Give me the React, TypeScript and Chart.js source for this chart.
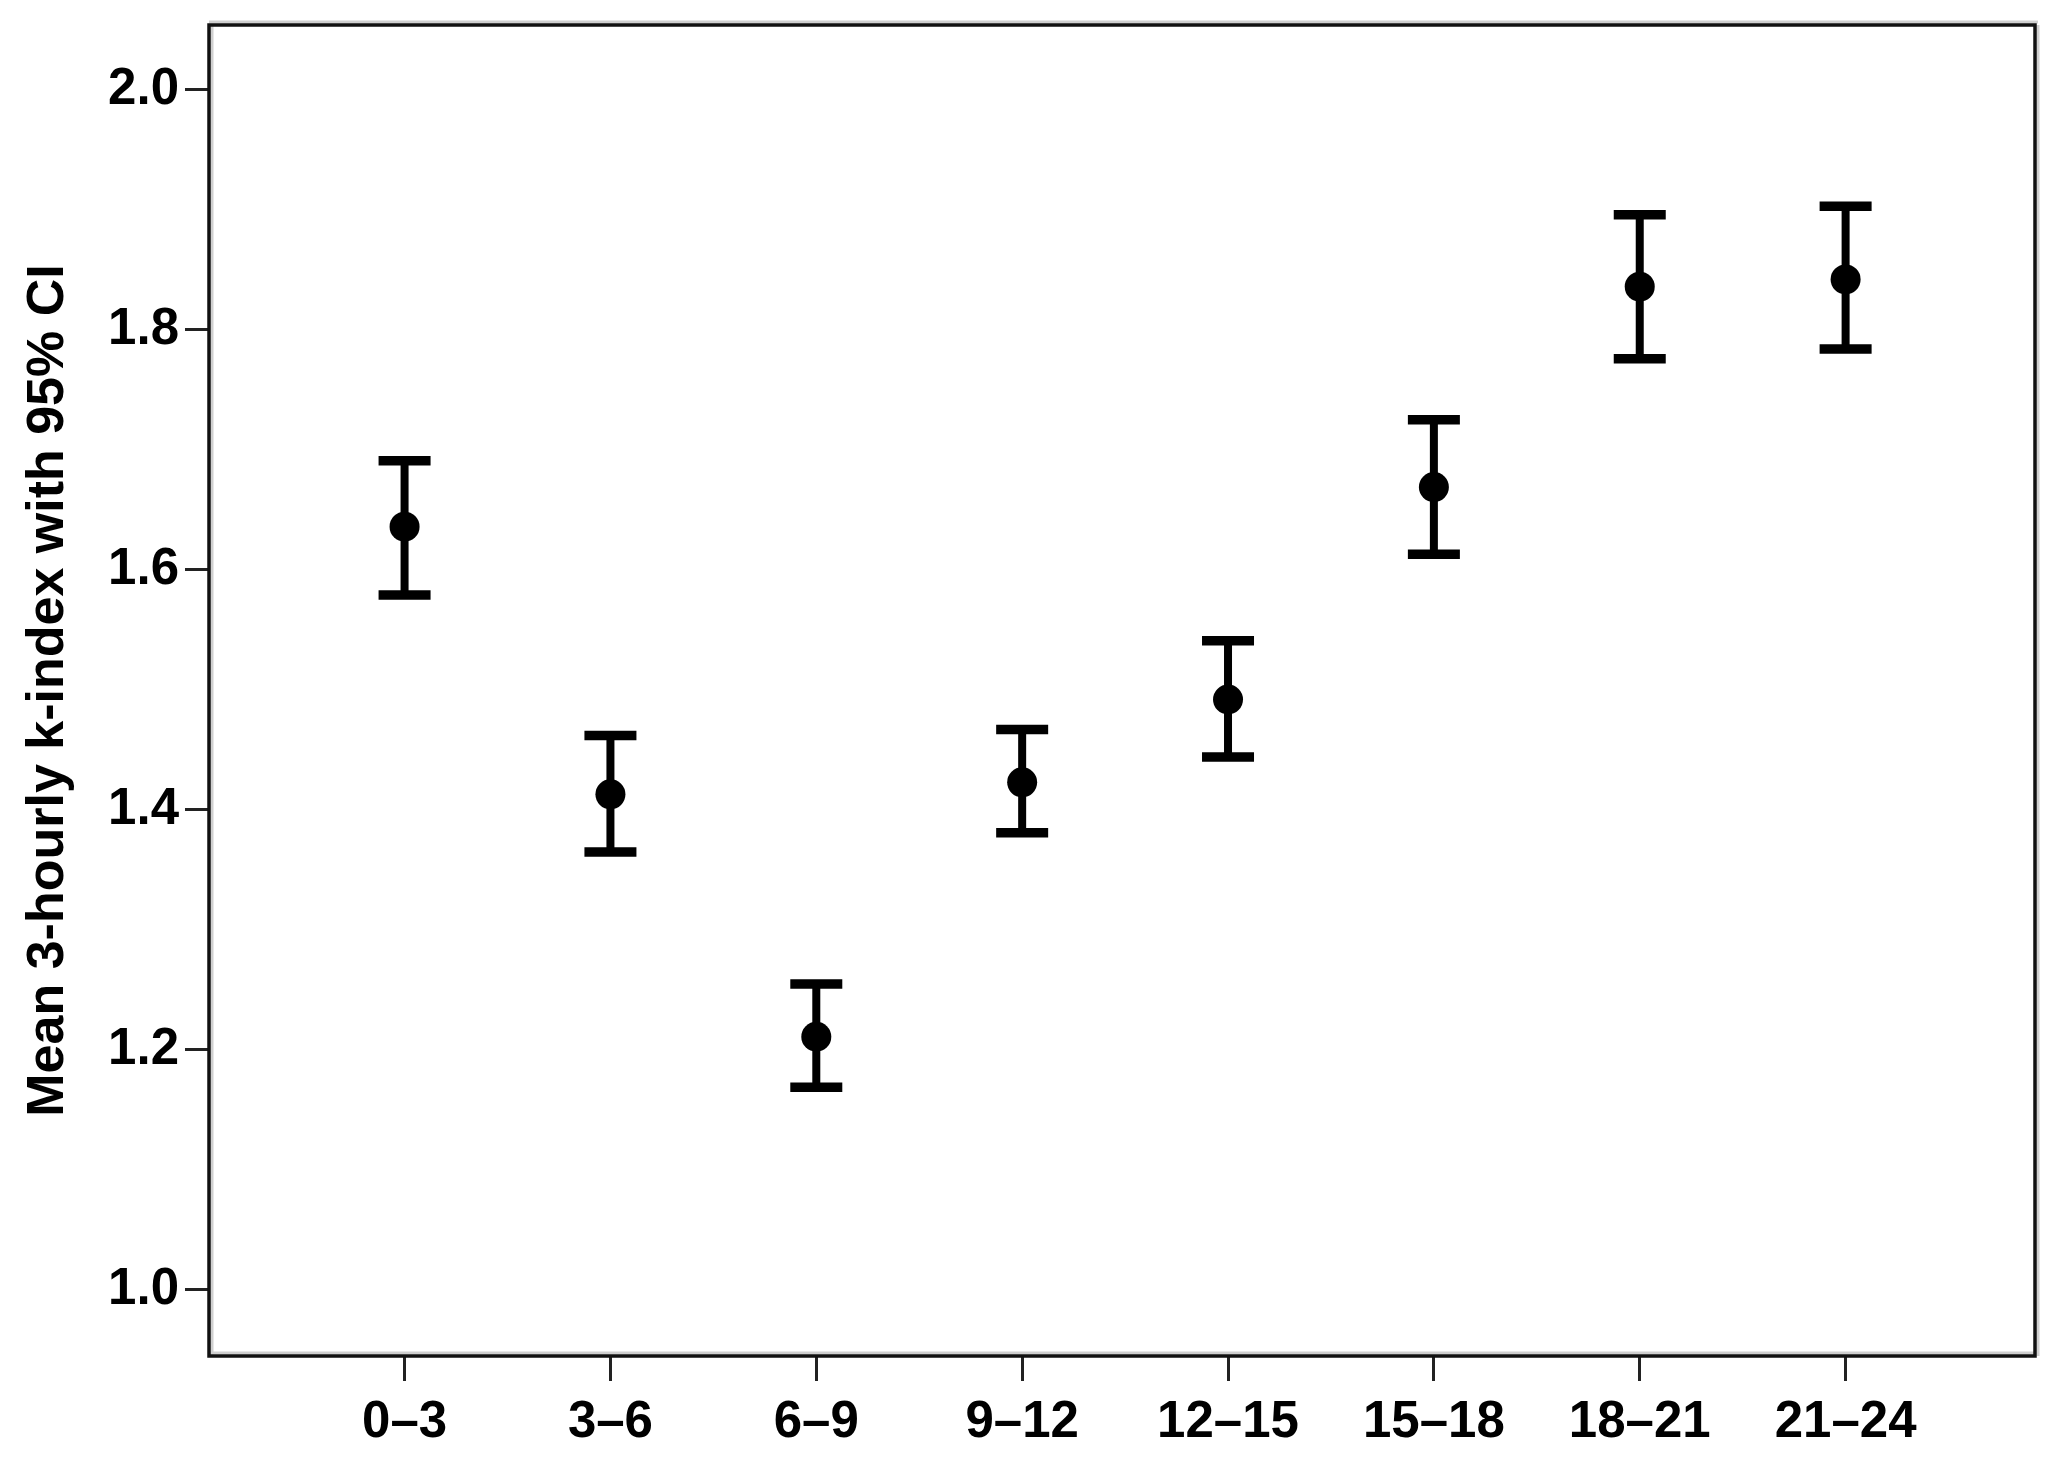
import React, { useEffect, useRef } from "react";
import { Chart, registerables } from "chart.js";

Chart.register(...registerables);

const categories = ["0–3", "3–6", "6–9", "9–12", "12–15", "15–18", "18–21", "21–24"];
const means = [1.636, 1.413, 1.211, 1.423, 1.492, 1.669, 1.836, 1.842];
const upper = [1.691, 1.462, 1.255, 1.467, 1.541, 1.725, 1.896, 1.903];
const lower = [1.579, 1.365, 1.169, 1.381, 1.444, 1.613, 1.776, 1.784];
const yTicks = [1.0, 1.2, 1.4, 1.6, 1.8, 2.0];
const yTitle = "Mean 3-hourly k-index with 95% CI";

const FONT = "'Liberation Sans', Arial, sans-serif";

const errorBarPlugin = {
  id: "errorBars",
  beforeDatasetsDraw(chart: any) {
    const { ctx, scales } = chart;
    const xs = scales.x;
    const ys = scales.y;
    ctx.save();
    ctx.strokeStyle = "#000";
    categories.forEach((_, i) => {
      const x = xs.getPixelForValue(i);
      const yt = ys.getPixelForValue(upper[i]);
      const yb = ys.getPixelForValue(lower[i]);
      ctx.lineWidth = 8;
      ctx.beginPath();
      ctx.moveTo(x, yt);
      ctx.lineTo(x, yb);
      ctx.stroke();
      ctx.lineWidth = 9.5;
      ctx.beginPath();
      ctx.moveTo(x - 26, yt);
      ctx.lineTo(x + 26, yt);
      ctx.moveTo(x - 26, yb);
      ctx.lineTo(x + 26, yb);
      ctx.stroke();
    });
    ctx.restore();
  },
};

const framePlugin = {
  id: "frame",
  afterDraw(chart: any) {
    const { ctx, chartArea } = chart;
    const { left, right, top, bottom } = chartArea;
    ctx.save();
    ctx.strokeStyle = "#cfcfcf";
    ctx.lineWidth = 3;
    ctx.beginPath();
    ctx.moveTo(left, top - 3);
    ctx.lineTo(right + 3, top - 3);
    ctx.moveTo(left + 3, top);
    ctx.lineTo(left + 3, bottom);
    ctx.moveTo(right + 3, top);
    ctx.lineTo(right + 3, bottom);
    ctx.moveTo(left, bottom - 3);
    ctx.lineTo(right, bottom - 3);
    ctx.stroke();
    ctx.strokeStyle = "#111";
    ctx.lineWidth = 3.5;
    ctx.strokeRect(left, top, right - left, bottom - top);
    ctx.restore();
  },
};

export default function App() {
  const ref = useRef<HTMLCanvasElement | null>(null);

  useEffect(() => {
    if (!ref.current) return;
    Chart.defaults.font.family = FONT;
    Chart.defaults.color = "#000";
    const chart = new Chart(ref.current, {
      type: "scatter",
      data: {
        datasets: [
          {
            data: means.map((m, i) => ({ x: i, y: m })),
            pointRadius: 15,
            pointHoverRadius: 15,
            backgroundColor: "#000",
            borderWidth: 0,
          },
        ],
      },
      options: {
        responsive: false,
        animation: false,
        events: [],
        layout: { padding: { left: 0, top: 25, right: 37, bottom: 0 } },
        plugins: {
          legend: { display: false },
          tooltip: { enabled: false },
        },
        scales: {
          x: {
            type: "linear",
            min: -0.95,
            max: 7.92,
            afterBuildTicks: (s: any) => {
              s.ticks = categories.map((_, i) => ({ value: i }));
            },
            afterFit: (s: any) => {
              s.height = 116;
              s.paddingLeft = 0;
              s.paddingRight = 0;
            },
            ticks: {
              callback: (v: any) => categories[v] ?? "",
              font: { size: 51, weight: "bold", family: FONT },
              color: "#000",
              padding: 11,
              maxRotation: 0,
              autoSkip: false,
            },
            grid: {
              display: true,
              drawOnChartArea: false,
              drawTicks: true,
              tickLength: 25,
              tickWidth: 3,
              tickColor: "#222",
            },
            border: { display: false },
          },
          y: {
            min: 0.945,
            max: 2.054,
            afterBuildTicks: (s: any) => {
              s.ticks = yTicks.map((v) => ({ value: v }));
            },
            afterFit: (s: any) => {
              s.width = 209;
              s.paddingTop = 0;
              s.paddingBottom = 0;
            },
            ticks: {
              callback: (v: any) => Number(v).toFixed(1),
              font: { size: 51, weight: "bold", family: FONT },
              color: "#000",
              padding: 6,
              autoSkip: false,
            },
            grid: {
              display: true,
              drawOnChartArea: false,
              drawTicks: true,
              tickLength: 24,
              tickWidth: 3,
              tickColor: "#222",
            },
            border: { display: false },
            title: {
              display: true,
              text: yTitle,
              font: { size: 52, weight: "bold", family: FONT },
              color: "#000",
              padding: { top: 17, bottom: 0 },
            },
          },
        },
      },
      plugins: [errorBarPlugin, framePlugin],
    });
    return () => chart.destroy();
  }, []);

  return (
    <div style={{ position: "absolute", left: 0, top: 0, width: 2072, height: 1472, background: "#fff" }}>
      <canvas ref={ref} width={2072} height={1472} style={{ display: "block" }} />
    </div>
  );
}
